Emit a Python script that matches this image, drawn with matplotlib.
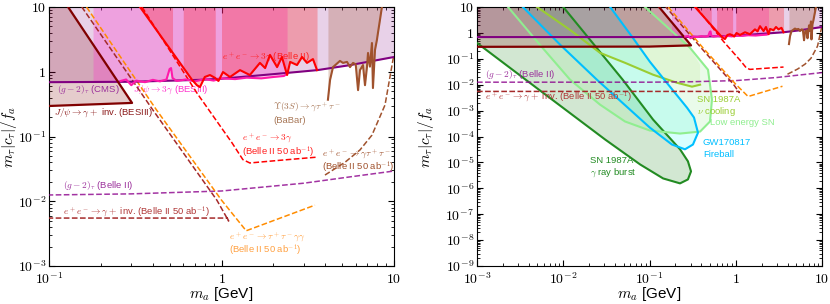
import numpy as np
import matplotlib.pyplot as plt
from matplotlib.ticker import FuncFormatter, LogLocator, NullFormatter

plt.rcParams['mathtext.fontset'] = 'cm'
plt.rcParams['font.family'] = ['Liberation Sans', 'DejaVu Sans']

# ── existing bounds ──────────────────────────────────────────────────────────
g2_cms_x = [1e-3, 0.1, 0.3, 0.75, 1.0, 2.3, 3.6, 5.6, 10]
g2_cms_y = [0.69, 0.69, 0.70, 0.75, 0.78, 0.95, 1.06, 1.27, 1.69]

besiii_inv_x = [1e-3, 0.1, 0.303, 0.129]
besiii_inv_y = [0.29, 0.296, 0.33, 10]

jpsi3g_x = [0.18, 0.26, 0.28, 0.30, 0.32, 0.36, 0.40, 0.44, 0.48, 0.50, 0.51, 0.52,
            0.55, 0.62, 0.70, 0.80, 0.90, 1.0, 1.2, 1.4, 1.7, 2.0, 2.3, 2.4]
jpsi3g_y = [0.70, 0.72, 0.76, 0.62, 0.73, 0.69, 0.75, 0.71, 0.76, 1.10, 1.14, 0.80,
            0.72, 0.76, 0.71, 0.77, 0.73, 0.79, 0.77, 0.81, 0.79, 0.83, 0.86, 0.93]

b2_3g_x = [0.337, 0.675, 0.72, 0.75, 0.80, 0.857, 0.92, 0.96, 1.02, 1.12, 1.28, 1.46,
           1.67, 1.79, 1.91, 2.10, 2.24, 2.40, 2.50, 2.74, 2.93, 3.13, 3.39, 3.58]
b2_3g_y = [10, 0.75, 0.62, 0.58, 0.83, 0.89, 0.80, 0.72, 0.99, 0.83, 1.06, 0.89,
           1.37, 1.14, 1.82, 1.18, 1.69, 0.89, 1.42, 1.27, 1.69, 1.37, 1.57, 1.06]
b2_3g_gaps = [(0.52, 0.60), (0.92, 1.00)]

babar_x = [4.14, 4.26, 4.43, 4.86, 5.06, 5.34, 5.56, 5.79, 6.0, 6.19, 6.35, 6.61,
           6.79, 6.97, 7.07, 7.25, 7.45, 7.55, 7.76, 7.96, 8.07, 8.29, 8.51]
babar_y = [0.37, 0.75, 1.18, 1.47, 1.37, 1.42, 1.18, 1.37, 1.30, 0.52, 1.06, 1.27,
           0.62, 1.18, 1.95, 1.20, 2.78, 0.56, 2.17, 3.09, 3.96, 6.3, 10]

# ── Belle II projections ─────────────────────────────────────────────────────
b2_g2_x = [1e-3, 0.1, 0.3, 1.0, 3.0, 5.5, 10]
b2_g2_y = [0.0125, 0.0125, 0.013, 0.0144, 0.019, 0.0237, 0.0293]

b2_inv_x = [1e-3, 1.08, 1.10, 0.94, 0.40, 0.155]
b2_inv_y = [0.0055, 0.0055, 0.00495, 0.0104, 0.257, 10]

tautau_x = [0.165, 0.42, 1.0, 1.39, 3.48]
tautau_y = [10, 0.257, 0.0104, 0.0035, 0.0087]

b2_3g50_x = [0.346, 0.72, 1.15, 1.33, 1.46, 2.2, 3.58]
b2_3g50_y = [10, 0.47, 0.08, 0.044, 0.039, 0.043, 0.048]

gtt_x = [3.98, 5.2, 6.35, 7.45, 8.87, 9.86, 10]
gtt_y = [0.0254, 0.040, 0.062, 0.105, 0.307, 1.52, 1.8]

# ── astrophysical bounds (right panel) ───────────────────────────────────────
sn_gamma_x = [1e-3, 5.4e-3, 0.0305, 0.078, 0.144, 0.226, 0.279, 0.303, 0.279, 0.226,
              0.11, 0.049, 0.01]
sn_gamma_y = [0.41, 5.9e-3, 7.7e-5, 8.3e-6, 2.4e-6, 1.55e-6, 2.2e-6, 4.5e-6, 1.1e-5,
              3.2e-5, 4.5e-4, 0.0155, 10]

gw_x = [3.4e-3, 9.2e-3, 0.0246, 0.101, 0.182, 0.258, 0.319, 0.365, 0.328, 0.272,
        0.173, 0.101, 0.064, 0.035]
gw_y = [10, 0.35, 0.0155, 2.2e-4, 4.9e-5, 3.2e-5, 4.9e-5, 1.4e-4, 5.4e-4, 1.3e-3,
        8.3e-3, 0.077, 0.65, 10]

lesn_x = [2.29e-3, 5.37e-3, 0.012, 0.0267, 0.052, 0.101, 0.226, 0.386, 0.503, 0.53,
          0.477, 0.295, 0.151, 0.0887]
lesn_y = [10, 0.345, 0.0156, 1.7e-3, 3.8e-4, 1.7e-4, 1.3e-4, 1.55e-4, 3.8e-4, 2.65e-3,
          0.0377, 0.265, 2.03, 10]

nucool_x = [4.97e-3, 0.012, 0.0267, 0.052, 0.110, 0.208, 0.311, 0.386, 0.386, 0.258, 0.132]
nucool_y = [10, 1.30, 0.170, 0.070, 0.0243, 0.0119, 8.4e-3, 0.01, 0.059, 0.54, 10]

TOP = 10


def fill_above(ax, x, y, gaps=(), **kw):
    """Fill from curve up to the top of the plot, optionally skipping mass windows."""
    x, y = np.asarray(x), np.asarray(y)
    lx, ly = np.log10(x), np.log10(y)
    edges = [x[0]] + [g for pair in gaps for g in pair] + [x[-1]]
    for a, b in zip(edges[0::2], edges[1::2]):
        m = (x > a) & (x < b)
        xs = np.concatenate([[a], x[m], [b]])
        ys = 10 ** np.interp(np.log10(xs), lx, ly)
        ax.fill_between(xs, ys, TOP, lw=0, **kw)


def draw_astro(ax):
    ax.fill(sn_gamma_x + [1e-3], sn_gamma_y + [TOP], color='forestgreen', alpha=0.2, lw=0, zorder=1)
    ax.plot(sn_gamma_x, sn_gamma_y, color='forestgreen', lw=1.5, zorder=3)
    ax.fill(nucool_x, nucool_y, color='yellowgreen', alpha=0.12, lw=0, zorder=1)
    ax.plot(nucool_x[:8], nucool_y[:8], color='yellowgreen', lw=1.5, zorder=3)
    ax.fill(lesn_x, lesn_y, color='lightgreen', alpha=0.18, lw=0, zorder=1)
    ax.plot(lesn_x, lesn_y, color='lightgreen', lw=1.5, zorder=3)
    ax.fill(gw_x, gw_y, color='cyan', alpha=0.15, lw=0, zorder=1)
    ax.plot(gw_x, gw_y, color='deepskyblue', lw=1.5, zorder=3)


def draw_common(ax):
    # existing bounds
    ax.fill_between(g2_cms_x, g2_cms_y, TOP, color='purple', alpha=0.18, lw=0, zorder=2)
    ax.fill(besiii_inv_x + [1e-3], besiii_inv_y + [TOP], color='maroon', alpha=0.2, lw=0, zorder=2)
    fill_above(ax, jpsi3g_x, jpsi3g_y, color='#ff33cc', alpha=0.3, zorder=2)
    fill_above(ax, b2_3g_x, b2_3g_y, gaps=b2_3g_gaps, color='red', alpha=0.25, zorder=2)
    fill_above(ax, babar_x, babar_y, color='sienna', alpha=0.26, zorder=2)

    ax.plot(g2_cms_x, g2_cms_y, color='purple', lw=1.5, zorder=5)
    ax.plot(besiii_inv_x, besiii_inv_y, color='maroon', lw=1.6, zorder=5)
    ax.plot(jpsi3g_x[1:], jpsi3g_y[1:], color='#ff1aaa', lw=1.5, zorder=5)
    ax.plot(b2_3g_x, b2_3g_y, color='red', lw=1.5, zorder=6)
    ax.plot(babar_x, babar_y, color='sienna', lw=1.5, zorder=5)

    # Belle II projections
    ax.plot(b2_g2_x, b2_g2_y, '--', color='darkmagenta', lw=1.1, zorder=4, alpha=0.8)
    ax.plot(b2_inv_x, b2_inv_y, '--', color='brown', lw=1.1, zorder=4)
    ax.plot(tautau_x, tautau_y, '--', color='darkorange', lw=1.1, zorder=4)
    ax.plot(b2_3g50_x, b2_3g50_y, '--', color='red', lw=1.1, zorder=4)
    ax.plot(gtt_x, gtt_y, '--', color='sienna', lw=1.1, zorder=4)


def fmt(v, pos):
    e = int(round(np.log10(v)))
    if e == 0:
        return '$1$'
    if e == 1:
        return '$10$'
    return '$10^{%d}$' % e


def style(ax, xlim, ylim, ylab_x):
    ax.set_xscale('log'); ax.set_yscale('log')
    ax.set_xlim(*xlim); ax.set_ylim(*ylim)
    ax.xaxis.set_major_locator(LogLocator(base=10, numticks=20))
    ax.yaxis.set_major_locator(LogLocator(base=10, numticks=20))
    ax.xaxis.set_minor_locator(LogLocator(base=10, subs=np.arange(2, 10), numticks=20))
    ax.yaxis.set_minor_locator(LogLocator(base=10, subs=np.arange(2, 10), numticks=20))
    ax.xaxis.set_major_formatter(FuncFormatter(fmt))
    ax.yaxis.set_major_formatter(FuncFormatter(fmt))
    ax.xaxis.set_minor_formatter(NullFormatter())
    ax.yaxis.set_minor_formatter(NullFormatter())
    ax.tick_params(which='both', direction='in', top=True, right=True, labelsize=10, pad=2)
    ax.tick_params(axis='x', which='both', pad=4)
    ax.tick_params(which='major', length=4)
    ax.tick_params(which='minor', length=2)
    ax.set_xlabel(r'$m_a$ [GeV]', fontsize=11, labelpad=-1.5)
    ax.set_ylabel(r'$m_\tau|c_\tau|/f_a$', fontsize=11)
    ax.yaxis.set_label_coords(ylab_x, 0.5)


fig = plt.figure(figsize=(8.3, 3.04), dpi=100)
ax1 = fig.add_axes([49 / 830, 1 - 266 / 304, 345 / 830, 259 / 304])
ax2 = fig.add_axes([477 / 830, 1 - 266 / 304, 345 / 830, 259 / 304])

draw_astro(ax2)
for ax in (ax1, ax2):
    draw_common(ax)
style(ax1, (0.1, 10), (1e-3, 10), -0.088)
style(ax2, (1e-3, 10), (1e-9, 10), -0.12)

fs = 6.8
ab = r'(Belle II 50 ab$^{-1}$)'
# left panel labels
ax1.text(0.111, 0.54, r'$(g-2)_\tau$ (CMS)', color='#9b309b', fontsize=fs, va='center')
ax1.text(0.107, 0.23, r'$J/\psi\to\gamma+$ inv. (BESIII)', color='#8b1a1a', fontsize=fs, va='center')
ax1.text(0.307, 0.52, r'$J/\psi\to3\gamma$ (BESIII)', color='#ff33cc', fontsize=fs, va='center')
ax1.text(1.0, 1.69, r'$e^+e^-\to3\gamma$ (Belle II)', color='#ff2020', fontsize=fs, va='center')
ax1.text(1.99, 0.28, r'$\Upsilon(3S)\to\gamma\tau^+\tau^-$', color='#a87858', fontsize=fs, va='center')
ax1.text(1.99, 0.175, '(BaBar)', color='#a87858', fontsize=fs, va='center')
ax1.text(1.31, 0.095, r'$e^+e^-\to3\gamma$', color='#ff2020', fontsize=fs, va='center')
ax1.text(1.31, 0.058, ab, color='#ff2020', fontsize=fs, va='center')
ax1.text(3.83, 0.054, r'$e^+e^-\to\gamma\tau^+\tau^-$', color='#a0522d', fontsize=fs, va='center')
ax1.text(3.83, 0.033, ab, color='#a0522d', fontsize=fs, va='center')
ax1.text(0.12, 0.0178, r'$(g-2)_\tau$ (Belle II)', color='#9b309b', fontsize=fs, va='center')
ax1.text(0.12, 0.0068, r'$e^+e^-\to\gamma+$ inv. ' + ab, color='#b03838', fontsize=fs, va='center')
ax1.text(1.10, 0.0028, r'$e^+e^-\to\tau^+\tau^-\gamma\gamma$', color='#ffa040', fontsize=fs, va='center')
ax1.text(1.10, 0.00172, ab, color='#ffa040', fontsize=fs, va='center')

# right panel labels
ax2.text(1.24e-3, 0.0243, r'$(g-2)_\tau$ (Belle II)', color='#9b309b', fontsize=fs, va='center')
ax2.text(1.24e-3, 3.16e-3, r'$e^+e^-\to\gamma+$ inv. ' + ab, color='#b03838', fontsize=fs, va='center')
ax2.text(0.356, 2.65e-3, 'SN 1987A', color='yellowgreen', fontsize=fs, va='center')
ax2.text(0.356, 9.1e-4, r'$\nu$ cooling', color='yellowgreen', fontsize=fs, va='center')
ax2.text(0.503, 3.5e-4, 'Low energy SN', color='lightgreen', fontsize=fs, va='center')
ax2.text(0.417, 5.9e-5, 'GW170817', color='deepskyblue', fontsize=fs, va='center')
ax2.text(0.417, 2.0e-5, 'Fireball', color='deepskyblue', fontsize=fs, va='center')
ax2.text(0.0204, 1.2e-5, 'SN 1987A', color='forestgreen', fontsize=fs, va='center')
ax2.text(0.0204, 4.1e-6, r'$\gamma$ ray burst', color='forestgreen', fontsize=fs, va='center')

fig.savefig('out.png', dpi=100)
